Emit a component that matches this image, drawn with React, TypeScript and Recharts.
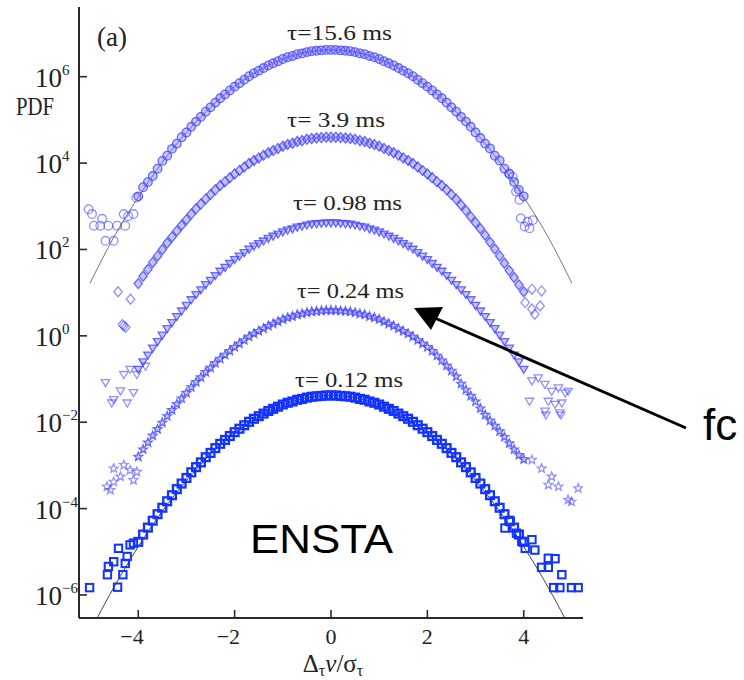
import React from 'react';
import { ComposedChart, Scatter, Line, XAxis, YAxis } from 'recharts';

// x positions (Δτv/στ) of the dense bands
const gridX = [-4.0,-3.9,-3.8,-3.7,-3.6,-3.5,-3.4,-3.3,-3.2,-3.1,-3.0,-2.9,-2.8,-2.7,-2.6,-2.5,-2.4,-2.3,-2.2,-2.1,-2.0,-1.9,-1.8,-1.7,-1.6,-1.5,-1.4,-1.3,-1.2,-1.1,-1.0,-0.9,-0.8,-0.7,-0.6,-0.5,-0.4,-0.3,-0.2,-0.1,0.0,0.1,0.2,0.3,0.4,0.5,0.6,0.7,0.8,0.9,1.0,1.1,1.2,1.3,1.4,1.5,1.6,1.7,1.8,1.9,2.0,2.1,2.2,2.3,2.4,2.5,2.6,2.7,2.8,2.9,3.0,3.1,3.2,3.3,3.4,3.5,3.6,3.7,3.8,3.9,4.0];

// log10(PDF) (curves are shifted vertically)
const tau156Log = [3.23,3.44,3.56,3.70,3.87,4.05,4.17,4.33,4.45,4.60,4.71,4.84,4.96,5.07,5.19,5.29,5.40,5.50,5.59,5.68,5.77,5.85,5.93,6.01,6.08,6.14,6.20,6.26,6.31,6.36,6.41,6.45,6.48,6.52,6.54,6.57,6.59,6.60,6.61,6.62,6.62,
  6.62,6.61,6.60,6.59,6.57,6.54,6.52,6.48,6.45,6.41,6.36,6.31,6.26,6.20,6.14,6.08,6.01,5.93,5.85,5.77,5.68,5.59,5.50,5.40,5.29,5.19,5.07,4.96,4.84,4.71,4.58,4.45,4.34,4.17,4.06,3.87,3.75,3.56,3.38,3.23];
const tau39Log = [1.21,1.38,1.54,1.70,1.85,2.00,2.15,2.29,2.43,2.56,2.69,2.82,2.94,3.05,3.17,3.27,3.38,3.48,3.57,3.66,3.75,3.83,3.91,3.99,4.06,4.12,4.18,4.24,4.29,4.34,4.39,4.43,4.46,4.50,4.52,4.55,4.57,4.58,4.59,4.60,4.60,
  4.60,4.59,4.58,4.57,4.55,4.52,4.50,4.46,4.43,4.39,4.34,4.29,4.24,4.18,4.12,4.06,3.99,3.91,3.83,3.75,3.66,3.57,3.48,3.38,3.27,3.16,3.03,2.90,2.76,2.62,2.48,2.33,2.17,2.01,1.85,1.68,1.51,1.35,1.18,1.02];
const tau098Log = [-0.77,-0.60,-0.44,-0.28,-0.13,0.02,0.17,0.31,0.45,0.58,0.71,0.84,0.96,1.07,1.19,1.29,1.40,1.50,1.59,1.68,1.77,1.85,1.93,2.01,2.08,2.14,2.20,2.26,2.31,2.36,2.41,2.45,2.48,2.52,2.54,2.57,2.59,2.60,2.61,2.62,2.62,
  2.62,2.61,2.60,2.59,2.57,2.54,2.52,2.48,2.45,2.41,2.36,2.31,2.26,2.20,2.14,2.08,2.01,1.93,1.85,1.77,1.68,1.59,1.50,1.40,1.29,1.19,1.07,0.96,0.84,0.71,0.58,0.45,0.31,0.17,0.02,-0.13,-0.28,-0.44,-0.60,-0.77];
const tau024Log = [-2.80,-2.63,-2.47,-2.31,-2.16,-2.01,-1.86,-1.72,-1.58,-1.45,-1.32,-1.19,-1.07,-0.96,-0.84,-0.74,-0.63,-0.53,-0.44,-0.35,-0.26,-0.18,-0.10,-0.02,0.05,0.11,0.17,0.23,0.28,0.33,0.38,0.42,0.45,0.49,0.51,0.54,0.56,0.57,0.58,0.59,0.59,
  0.59,0.58,0.57,0.56,0.54,0.51,0.49,0.45,0.42,0.38,0.33,0.28,0.23,0.17,0.11,0.05,-0.02,-0.10,-0.18,-0.26,-0.35,-0.46,-0.57,-0.69,-0.81,-0.94,-1.11,-1.25,-1.39,-1.52,-1.68,-1.83,-1.96,-2.08,-2.21,-2.34,-2.49,-2.63,-2.76,-2.86];
const tau012Log = [-4.77,-4.60,-4.44,-4.28,-4.13,-3.98,-3.83,-3.69,-3.55,-3.42,-3.29,-3.16,-3.04,-2.93,-2.81,-2.71,-2.60,-2.50,-2.41,-2.32,-2.23,-2.15,-2.07,-1.99,-1.92,-1.86,-1.80,-1.74,-1.69,-1.64,-1.59,-1.55,-1.52,-1.48,-1.46,-1.43,-1.41,-1.40,-1.39,-1.38,-1.38,
  -1.38,-1.39,-1.40,-1.41,-1.43,-1.46,-1.48,-1.52,-1.55,-1.59,-1.64,-1.69,-1.74,-1.80,-1.86,-1.92,-1.99,-2.07,-2.15,-2.23,-2.32,-2.41,-2.50,-2.60,-2.71,-2.81,-2.93,-3.04,-3.16,-3.29,-3.42,-3.55,-3.69,-3.83,-3.98,-4.13,-4.28,-4.44,-4.60,-4.77];

// scattered tail points
const tau156TailX = [-5.03,-4.96,-4.92,-4.79,-4.75,-4.62,-4.44,-4.27,-4.68,-4.51,-4.30,-4.21,-4.10,-4.04,3.70,3.77,3.84,3.91,3.94,4.02,4.08,4.12,4.19];
const tau156TailLog = [2.93,2.82,2.55,2.55,2.71,2.55,2.55,2.55,2.20,2.20,2.82,2.77,2.82,3.20,3.76,3.68,3.34,3.15,2.72,2.53,2.64,2.49,2.68];
const tau39TailX = [-4.42,-4.30,-4.26,-4.33,-4.16,4.03,4.17,4.17,4.23,4.34,4.37];
const tau39TailLog = [1.02,0.23,0.20,0.26,0.85,0.77,1.08,0.62,0.50,0.69,1.04];
const tau098TailX = [-4.68,-4.55,-4.51,-4.37,-4.30,-4.23,-4.17,-4.10,-4.03,-3.85,4.12,4.17,4.30,4.44,4.44,4.46,4.51,4.58,4.65,4.72,4.75,4.77,4.79,4.86,4.92];
const tau098TailLog = [-1.08,-1.55,-1.47,-1.27,-0.89,-1.55,-0.77,-1.31,-0.89,-0.70,-1.51,-1.04,-0.97,-1.12,-1.74,-1.83,-1.51,-1.28,-1.58,-1.20,-1.78,-1.83,-1.55,-1.32,-1.28];
const tau024TailX = [-4.65,-4.58,-4.51,-4.51,-4.37,-4.30,-4.17,-4.10,-4.03,4.17,4.37,4.51,4.58,4.72,4.92,4.99,5.13];
const tau024TailLog = [-3.49,-3.57,-3.07,-3.38,-3.26,-2.99,-3.11,-3.34,-3.15,-2.87,-3.07,-3.45,-3.26,-3.49,-3.80,-3.84,-3.53];
const tau012TailX = [-5.01,-4.64,-4.62,-4.51,-4.43,-4.41,-4.32,-4.27,-4.23,-4.17,-4.10,3.61,3.72,3.85,3.96,4.03,4.17,4.23,4.37,4.51,4.51,4.62,4.65,4.75,4.79,4.99,5.13];
const tau012TailLog = [-5.83,-5.53,-5.34,-5.23,-5.82,-4.92,-5.53,-5.27,-5.11,-4.84,-4.80,-4.45,-4.30,-4.57,-4.76,-4.92,-4.72,-4.96,-5.36,-5.15,-5.36,-5.83,-5.16,-5.83,-5.53,-5.83,-5.83];

// Gaussian fit curves (grey lines)
const fitTopX = [-5,-4.5,-4,-3.5,-3,-2.5,-2,-1.5,-1,-0.5,0,0.5,1,1.5,2,2.5,3,3.5,4,4.5,5];
const fitTopLog = [1.22,2.30,3.21,4.02,4.71,5.29,5.77,6.14,6.41,6.57,6.62,6.57,6.41,6.14,5.77,5.29,4.71,4.02,3.21,2.30,1.22];
const fitBottomX = [-4.85,-4.5,-4,-3.5,-3,-2.5,-2,-1.5,-1,-0.5,0,0.5,1,1.5,2,2.5,3,3.5,4,4.5,4.85];
const fitBottomLog = [-6.53,-5.81,-4.88,-4.06,-3.35,-2.75,-2.26,-1.87,-1.60,-1.43,-1.38,-1.43,-1.60,-1.87,-2.26,-2.75,-3.35,-4.06,-4.88,-5.81,-6.53];

const xTicks = [-4, -2, 0, 2, 4];
const yTicks = [1e-6, 1e-4, 1e-2, 1, 1e2, 1e4, 1e6];
const tauLabels = ['τ=15.6 ms', 'τ= 3.9 ms', 'τ= 0.98 ms', 'τ= 0.24 ms', 'τ= 0.12 ms'];

const toPts = (xs: number[], logs: number[]) => xs.map((x, i) => ({ x, y: Math.pow(10, logs[i]) }));

const band156 = toPts(gridX, tau156Log);
const band39 = toPts(gridX, tau39Log);
const band098 = toPts(gridX, tau098Log);
const band024 = toPts(gridX, tau024Log);
const band012 = toPts(gridX, tau012Log);
const tail156 = toPts(tau156TailX, tau156TailLog);
const tail39 = toPts(tau39TailX, tau39TailLog);
const tail098 = toPts(tau098TailX, tau098TailLog);
const tail024 = toPts(tau024TailX, tau024TailLog);
const tail012 = toPts(tau012TailX, tau012TailLog);
const fitTop = toPts(fitTopX, fitTopLog);
const fitBottom = toPts(fitBottomX, fitBottomLog);

const LIGHT = 'rgb(70,70,255)';
const BAND_FILL = 'rgba(100,100,255,0.38)';
const LW = 1.3;
const DARK = '#1233ff';
const AX = '#2a2a2a';
const SERIF = '"Liberation Serif", "Times New Roman", serif';
const SANS = '"Liberation Sans", Arial, sans-serif';

type Mk = (cx: number, cy: number, fill: string, op: number) => React.ReactElement;

const circle: Mk = (cx, cy, fill, op) => (
  <circle cx={cx} cy={cy} r={4.3} fill={fill} stroke={LIGHT} strokeOpacity={op} strokeWidth={LW} />
);
const diamond: Mk = (cx, cy, fill, op) => (
  <polygon points={`${cx},${cy - 5} ${cx + 4.2},${cy} ${cx},${cy + 5} ${cx - 4.2},${cy}`} fill={fill} stroke={LIGHT} strokeOpacity={op} strokeWidth={LW} />
);
const tri: Mk = (cx, cy, fill, op) => (
  <polygon points={`${cx - 4.2},${cy - 2.8} ${cx + 4.2},${cy - 2.8} ${cx},${cy + 4.2}`} fill={fill} stroke={LIGHT} strokeOpacity={op} strokeWidth={LW} />
);
const star: Mk = (cx, cy, fill, op) => {
  const pts: string[] = [];
  for (let i = 0; i < 10; i++) {
    const r = i % 2 === 0 ? 4.6 : 2.0;
    const a = -Math.PI / 2 + (i * Math.PI) / 5;
    pts.push(`${cx + r * Math.cos(a)},${cy + r * Math.sin(a)}`);
  }
  return <polygon points={pts.join(' ')} fill={fill} stroke={LIGHT} strokeOpacity={op} strokeWidth={LW} />;
};

const bandShape = (mk: Mk) => (p: any) => mk(p.cx, p.cy, BAND_FILL, 0.8);
const tailShape = (mk: Mk) => (p: any) => mk(p.cx, p.cy, 'none', 0.6);

const SquareBand = (p: any) => (
  <rect x={p.cx - 3.9} y={p.cy - 3.9} width={7.8} height={7.8} fill="none" stroke={DARK} strokeWidth={2.3} />
);
const SquareTail = (p: any) => (
  <rect x={p.cx - 3.7} y={p.cy - 3.7} width={7.4} height={7.4} fill="none" stroke={DARK} strokeWidth={2} />
);

const BottomTick = (props: any) => {
  const { x, y, payload } = props;
  const v = payload.value;
  const neg = v < 0;
  const label = neg ? '\u2212' + Math.abs(v) : String(v);
  return (
    <g>
      <line x1={x} y1={y} x2={x} y2={y - 8} stroke={AX} strokeWidth={1.6} />
      <text x={neg ? x + 5.5 : x} y={y + 26} textAnchor={neg ? 'end' : 'middle'} fontFamily={SERIF} fontSize={22} fill="#222">{label}</text>
    </g>
  );
};
const TopTick = (props: any) => {
  const { x, y } = props;
  return <line x1={x} y1={y} x2={x} y2={y + 8} stroke={AX} strokeWidth={1.6} />;
};
const LeftTick = (props: any) => {
  const { x, y, payload } = props;
  const e = Math.round(Math.log10(payload.value));
  const es = e < 0 ? '\u2212' + Math.abs(e) : String(e);
  return (
    <g>
      <line x1={x} y1={y} x2={x + 8} y2={y} stroke={AX} strokeWidth={1.6} />
      <text x={x - 44} y={y + 10} textAnchor="start" fontFamily={SERIF} fontSize={27} fill="#222">
        <tspan>10</tspan>
        <tspan dy={-12} fontSize={15}>{es}</tspan>
      </text>
    </g>
  );
};
const RightTick = (props: any) => {
  const { x, y } = props;
  return <line x1={x} y1={y} x2={x - 8} y2={y} stroke={AX} strokeWidth={1.6} />;
};

const axisLine = { stroke: AX, strokeWidth: 2 };

export default function App() {
  return (
    <div style={{ position: 'absolute', left: 0, top: 0, width: 744, height: 680, background: '#fff' }}>
      <ComposedChart width={744} height={680} margin={{ top: 7, right: 161, bottom: 0, left: 0 }}>
        <XAxis xAxisId={0} type="number" dataKey="x" domain={[-5.23, 5.23]} ticks={xTicks} interval={0} allowDataOverflow
          height={62} tickLine={false} tickSize={0} tickMargin={0} axisLine={axisLine} tick={<BottomTick />} />
        <XAxis xAxisId="top" orientation="top" type="number" domain={[-5.23, 5.23]} ticks={xTicks} interval={0} allowDataOverflow
          height={0} tickLine={false} tickSize={0} tickMargin={0} axisLine={axisLine} tick={<TopTick />} />
        <YAxis yAxisId={0} type="number" dataKey="y" scale="log" domain={[2.93e-7, 4.11e7]} ticks={yTicks} interval={0} allowDataOverflow
          width={79} tickLine={false} tickSize={0} tickMargin={0} axisLine={axisLine} tick={<LeftTick />} />
        <YAxis yAxisId="right" orientation="right" type="number" scale="log" domain={[2.93e-7, 4.11e7]} ticks={yTicks} interval={0} allowDataOverflow
          width={0} tickLine={false} tickSize={0} tickMargin={0} axisLine={axisLine} tick={<RightTick />} />

        <Scatter data={band156} dataKey="y" shape={bandShape(circle)} isAnimationActive={false} />
        <Scatter data={tail156} dataKey="y" shape={tailShape(circle)} isAnimationActive={false} />
        <Scatter data={band39} dataKey="y" shape={bandShape(diamond)} isAnimationActive={false} />
        <Scatter data={tail39} dataKey="y" shape={tailShape(diamond)} isAnimationActive={false} />
        <Scatter data={band098} dataKey="y" shape={bandShape(tri)} isAnimationActive={false} />
        <Scatter data={tail098} dataKey="y" shape={tailShape(tri)} isAnimationActive={false} />
        <Scatter data={band024} dataKey="y" shape={bandShape(star)} isAnimationActive={false} />
        <Scatter data={tail024} dataKey="y" shape={tailShape(star)} isAnimationActive={false} />
        <Scatter data={band012} dataKey="y" shape={SquareBand} isAnimationActive={false} />
        <Scatter data={tail012} dataKey="y" shape={SquareTail} isAnimationActive={false} />

        <Line data={fitTop} dataKey="y" type="natural" stroke="#777" strokeWidth={1} dot={false} activeDot={false} isAnimationActive={false} />
        <Line data={fitBottom} dataKey="y" type="natural" stroke="#444" strokeWidth={1} dot={false} activeDot={false} isAnimationActive={false} />
      </ComposedChart>

      <svg width={744} height={680} style={{ position: 'absolute', left: 0, top: 0, pointerEvents: 'none' }}>
        <text x={97} y={46} fontFamily={SERIF} fontSize={27} fill="#222">(a)</text>
        <text x={16} y={115} fontFamily={SERIF} fontSize={26} fill="#222" textLength={38} lengthAdjust="spacingAndGlyphs">PDF</text>

        <text x={287} y={40} fontFamily={SERIF} fontSize={22} fill="#222" textLength={105} lengthAdjust="spacingAndGlyphs">{tauLabels[0]}</text>
        <text x={287} y={127} fontFamily={SERIF} fontSize={22} fill="#222" textLength={98} lengthAdjust="spacingAndGlyphs">{tauLabels[1]}</text>
        <text x={293} y={210} fontFamily={SERIF} fontSize={22} fill="#222" textLength={109} lengthAdjust="spacingAndGlyphs">{tauLabels[2]}</text>
        <text x={297} y={298} fontFamily={SERIF} fontSize={22} fill="#222" textLength={107} lengthAdjust="spacingAndGlyphs">{tauLabels[3]}</text>
        <text x={295} y={387} fontFamily={SERIF} fontSize={22} fill="#222" textLength={108} lengthAdjust="spacingAndGlyphs">{tauLabels[4]}</text>

        <text x={250} y={553} fontFamily={SANS} fontSize={40} fill="#000" textLength={143} lengthAdjust="spacingAndGlyphs">ENSTA</text>
        <text x={703} y={440} fontFamily={SANS} fontSize={44} fill="#000">fc</text>

        <line x1={686} y1={428} x2={428} y2={315} stroke="#000" strokeWidth={3} />
        <polygon points="414,308 443,307 431,330" fill="#000" />

        <text x={333} y={672} textAnchor="middle" fontFamily={SERIF} fontSize={25} fill="#222">
          Δ<tspan dy={4} fontSize={16}>τ</tspan><tspan dy={-4} fontStyle="italic">ν</tspan>/σ<tspan dy={4} fontSize={16}>τ</tspan>
        </text>
      </svg>
    </div>
  );
}
